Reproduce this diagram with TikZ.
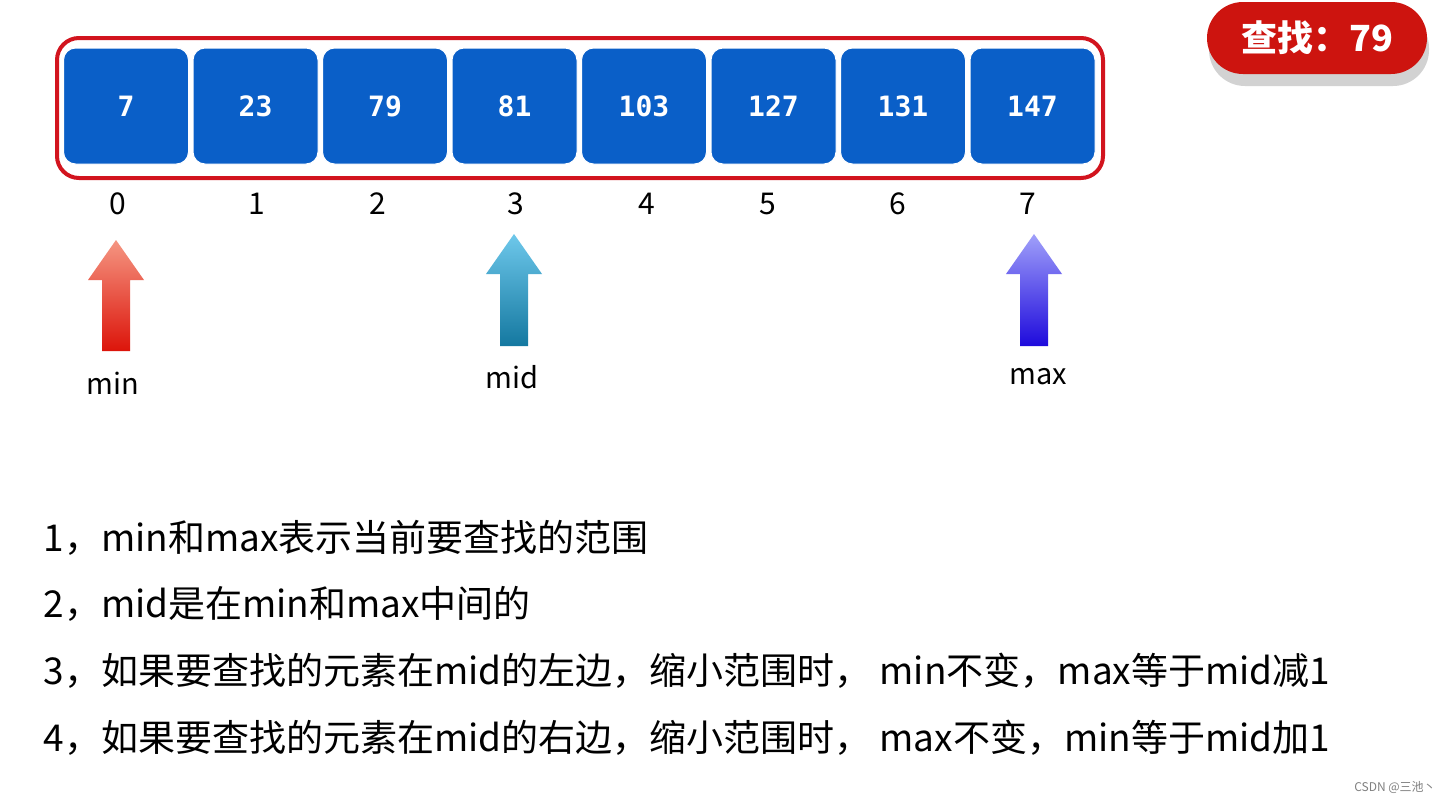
\documentclass[tikz,border=0pt]{standalone}
\usepackage{fontspec}
\setmainfont{Noto Sans CJK SC}
\newfontfamily\monof{DejaVu Sans Mono}
\definecolor{cellblue}{RGB}{10,95,200}
\definecolor{framered}{RGB}{210,20,30}
\definecolor{badgered}{RGB}{205,20,15}
\definecolor{minT}{RGB}{245,150,130}
\definecolor{minB}{RGB}{220,20,10}
\definecolor{midT}{RGB}{110,200,235}
\definecolor{midB}{RGB}{20,120,160}
\definecolor{maxT}{RGB}{160,160,250}
\definecolor{maxB}{RGB}{30,10,220}
\begin{document}
\begin{tikzpicture}[x=1pt,y=-1pt,
  cell/.style={draw=white,line width=1pt,fill=cellblue,rounded corners=12pt,minimum width=125pt,minimum height=116pt,text=white,font=\monof\bfseries\fontsize{28}{30}\selectfont},
  idx/.style={font=\fontsize{30}{32}\selectfont},
  lbl/.style={font=\fontsize{29}{31}\selectfont},
  line/.style={anchor=west,font=\fontsize{37}{40}\selectfont}]
\useasboundingbox (0,0) rectangle (1456,803);
\fill[white] (0,0) rectangle (1456,803);
\node[draw=framered,line width=4pt,rounded corners=22pt,minimum width=1046pt,minimum height=140pt] (frame) at (580,108) {};
\foreach \v [count=\i from 0] in {7,23,79,81,103,127,131,147}{
  \node[cell] (c\i) at (126+129.5*\i,106) {\v};
}
\foreach \x/\t [count=\i from 0] in {118/0,257/1,378/2,516/3,647/4,768/5,898/6,1028/7}{
  \node[idx] (i\i) at (\x,204) {\t};
}
\newcommand\uparr[6]{%
  \shade[top color=#4,bottom color=#5] (#1-14,#3) -- (#1-14,#2+40) -- (#1-28,#2+40) -- (#1,#2) -- (#1+28,#2+40) -- (#1+14,#2+40) -- (#1+14,#3) -- cycle;
  \coordinate (#6) at (#1,#3);}
\uparr{116}{240}{351}{minT}{minB}{amin}
\uparr{514}{234}{346}{midT}{midB}{amid}
\uparr{1034}{234}{346}{maxT}{maxB}{amax}
\node[lbl] (lmin) at (113,383) {min};
\node[lbl] (lmid) at (512,377) {mid};
\node[lbl] (lmax) at (1038,377) {max};
\fill[gray!35,rounded corners=36pt] (1209,12) rectangle (1429,86);
\node[fill=badgered,rounded corners=36pt,minimum width=220pt,minimum height=72pt,text=white,font=\bfseries\fontsize{36}{38}\selectfont] (badge) at (1317,38) {查找：79};
\node[line] (t1) at (40,538) {1，min和max表示当前要查找的范围};
\node[line] (t2) at (40,604) {2，mid是在min和max中间的};
\node[line] (t3) at (40,671) {3，如果要查找的元素在mid的左边，缩小范围时， min不变，max等于mid减1};
\node[line] (t4) at (40,738) {4，如果要查找的元素在mid的右边，缩小范围时， max不变，min等于mid加1};
\node[font=\fontsize{12}{14}\selectfont,text=gray] (wm) at (1395,787) {CSDN @三池丶};
\end{tikzpicture}
\end{document}
